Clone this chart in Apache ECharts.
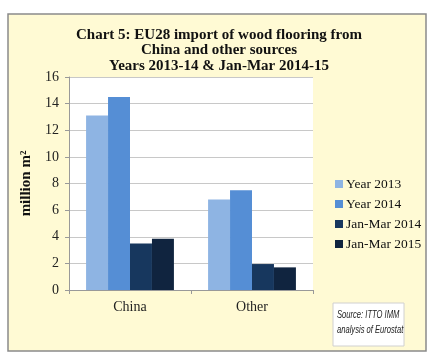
<!DOCTYPE html>
<html><head><meta charset="utf-8">
<script src="https://cdn.jsdelivr.net/npm/echarts@6/dist/echarts.min.js"></script>
<style>html,body{margin:0;padding:0;background:#fff}#c{width:438px;height:359px}</style>
</head><body><div id="c"></div>
<script>
const categories = ['China', 'Other'];
const seriesNames = ['Year 2013', 'Year 2014', 'Jan-Mar 2014', 'Jan-Mar 2015'];
const year2013 = [13.1, 6.8];
const year2014 = [14.5, 7.5];
const janMar2014 = [3.5, 1.95];
const janMar2015 = [3.85, 1.7];
const yTicks = [0, 2, 4, 6, 8, 10, 12, 14, 16];

const colors = ['#8EB4E3', '#558ED5', '#17375E', '#10243F'];
const values = [year2013, year2014, janMar2014, janMar2015];
const serif = '"Liberation Serif", "DejaVu Serif", serif';

const chart = echarts.init(document.getElementById('c'));
chart.setOption({
  backgroundColor: '#ffffff',
  animation: false,
  title: {
    text: 'Chart 5: EU28 import of wood flooring from\nChina and other sources\nYears 2013-14 & Jan-Mar 2014-15',
    left: 'center', top: 22,
    textStyle: { fontFamily: serif, fontWeight: 'bold', fontSize: 15, lineHeight: 15.5, color: '#111' }
  },
  graphic: [
    { type: 'rect', z: -10, shape: { x: 8, y: 14, width: 418, height: 337 },
      style: { fill: '#FFFAD4', stroke: '#8a8a8a', lineWidth: 1.5 } },
    { type: 'rect', z: 10, shape: { x: 333, y: 303, width: 71, height: 43 },
      style: { fill: '#ffffff', stroke: '#d0d0d0', lineWidth: 1 } },
    { type: 'text', z: 11, x: 337, y: 307, scaleX: 0.76,
      style: { text: 'Source: ITTO IMM\nanalysis of Eurostat', fontFamily: '"Liberation Sans", sans-serif', fontStyle: 'italic', fontSize: 10, lineHeight: 15.5, fill: '#222' } }
  ],
  legend: {
    orient: 'vertical', left: 330, top: 172,
    itemWidth: 8, itemHeight: 8, itemGap: 6,
    icon: 'rect',
    textStyle: { fontFamily: serif, fontSize: 13.5, color: '#111', padding: [0, 0, 0, -2] },
    data: seriesNames
  },
  grid: { left: 69, right: 125, top: 77, bottom: 69, show: true, backgroundColor: '#ffffff', borderWidth: 0 },
  xAxis: {
    type: 'category', data: categories,
    axisLine: { lineStyle: { color: '#999' } },
    axisTick: { show: true, length: 4, lineStyle: { color: '#999' } },
    axisLabel: { fontFamily: serif, fontSize: 14, color: '#222', margin: 10 }
  },
  yAxis: {
    type: 'value', min: yTicks[0], max: yTicks[yTicks.length - 1], interval: 2,
    name: 'million m²', nameLocation: 'middle', nameGap: 35,
    nameTextStyle: { fontFamily: serif, fontWeight: 'bold', fontSize: 15, color: '#111' },
    axisLine: { show: true, lineStyle: { color: '#999' } },
    axisTick: { show: true, length: 4, lineStyle: { color: '#999' } },
    splitLine: { lineStyle: { color: '#c8c8c8' } },
    axisLabel: { fontFamily: serif, fontSize: 14, color: '#222', margin: 10 }
  },
  series: seriesNames.map((n, i) => ({
    name: n, type: 'bar', data: values[i],
    itemStyle: { color: colors[i] },
    barGap: '0%', barCategoryGap: '28%'
  }))
});
</script></body></html>
